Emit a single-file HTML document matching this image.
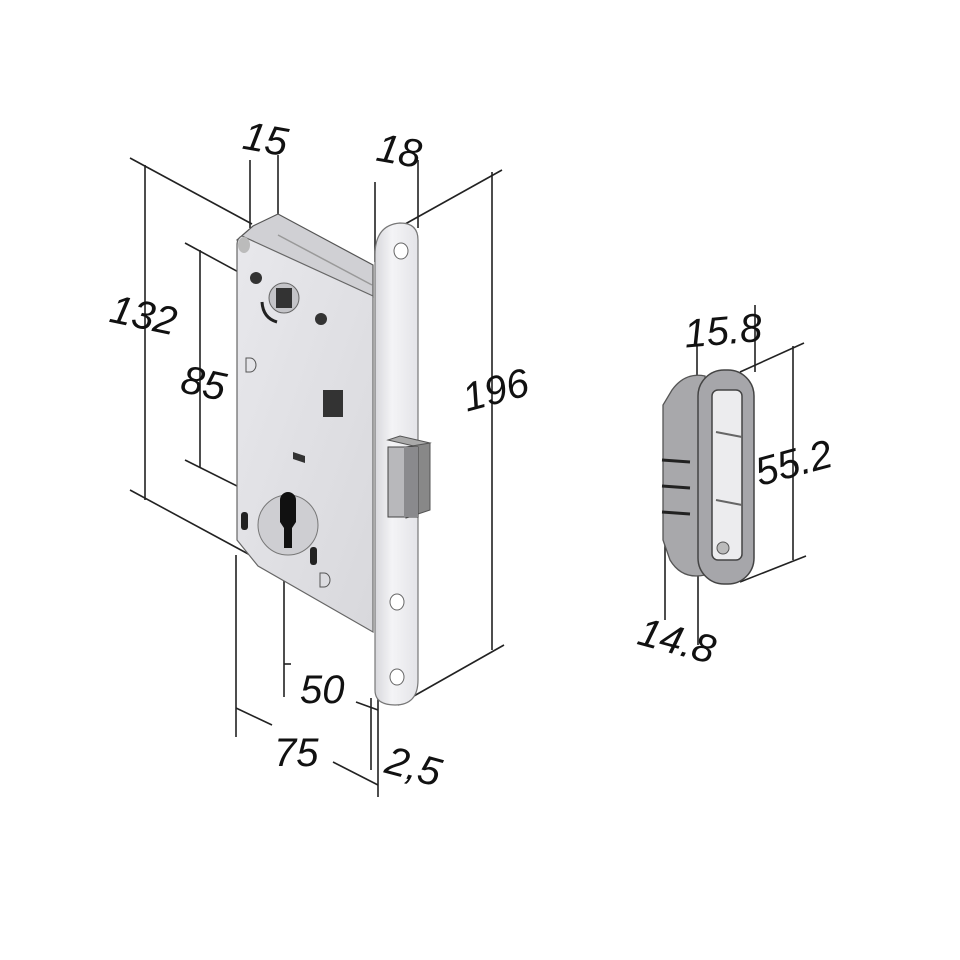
<!DOCTYPE html>
<html><head><style>
html,body{margin:0;padding:0;background:#fff;}
svg{display:block}
text{font-family:"Liberation Sans",sans-serif;font-style:italic;fill:#111;font-size:40px}
</style></head><body>
<svg width="960" height="960" viewBox="0 0 960 960" xmlns="http://www.w3.org/2000/svg">
<defs>
<linearGradient id="face" x1="0" y1="0" x2="1" y2="1"><stop offset="0" stop-color="#e8e8ec"/><stop offset="1" stop-color="#d8d8dc"/></linearGradient>
<linearGradient id="plate" x1="0" y1="0" x2="1" y2="0"><stop offset="0" stop-color="#d8d8dc"/><stop offset=".4" stop-color="#f4f4f6"/><stop offset="1" stop-color="#e4e4e8"/></linearGradient>
</defs>
<g stroke="#222" stroke-width="1.6" fill="none">
<line x1="145" y1="165" x2="145" y2="500"/>
<line x1="130" y1="158" x2="252" y2="224"/>
<line x1="130" y1="490" x2="252" y2="556"/>
<line x1="200" y1="250" x2="200" y2="468"/>
<line x1="185" y1="243" x2="290" y2="300"/>
<line x1="185" y1="460" x2="285" y2="510"/>
<line x1="250" y1="160" x2="250" y2="228"/>
<line x1="278" y1="155" x2="278" y2="215"/>
<line x1="375" y1="182" x2="375" y2="262"/>
<line x1="418" y1="160" x2="418" y2="228"/>
<line x1="492" y1="172" x2="492" y2="650"/>
<line x1="398" y1="228" x2="502" y2="170"/>
<line x1="398" y1="705" x2="504" y2="645"/>
<line x1="284" y1="512" x2="284" y2="697"/>
<line x1="284" y1="664" x2="291" y2="664"/>
<line x1="356" y1="702" x2="378" y2="710"/>
<line x1="236" y1="555" x2="236" y2="737"/>
<line x1="236" y1="708" x2="272" y2="725"/>
<line x1="333" y1="762" x2="378" y2="785"/>
<line x1="371" y1="698" x2="371" y2="770"/>
<line x1="378" y1="698" x2="378" y2="797"/>
<line x1="697" y1="345" x2="697" y2="378"/>
<line x1="755" y1="305" x2="755" y2="372"/>
<line x1="793" y1="346" x2="793" y2="560"/>
<line x1="740" y1="372" x2="804" y2="343"/>
<line x1="740" y1="582" x2="806" y2="556"/>
<line x1="665" y1="530" x2="665" y2="620"/>
<line x1="698" y1="565" x2="698" y2="645"/>
</g>
<polygon points="237,240 253,226 278,214 373,265 373,297" fill="#d0d0d4" stroke="#555" stroke-width="1.2"/>
<line x1="278" y1="235" x2="372" y2="285" stroke="#999" stroke-width="1.5"/>
<path d="M242,236 L373,296 L373,632 L258,566 L237,540 L237,245 Q237,238 242,236 Z" fill="url(#face)" stroke="#666" stroke-width="1.2"/>
<ellipse cx="244" cy="245" rx="6" ry="8" fill="#bbb"/>
<circle cx="284" cy="298" r="15" fill="#c4c4c8" stroke="#666"/>
<rect x="276" y="288" width="16" height="20" fill="#333"/>
<circle cx="256" cy="278" r="6" fill="#333"/>
<circle cx="321" cy="319" r="6" fill="#333"/>
<path d="M262,302 Q263,318 277,322" stroke="#222" stroke-width="3" fill="none"/>
<path d="M246,358 h4 a6,7 0 0 1 0,14 h-4 z" fill="none" stroke="#555"/>
<rect x="323" y="390" width="20" height="27" fill="#333"/>
<polygon points="293,452 305,456 305,463 293,459" fill="#333"/>
<circle cx="288" cy="525" r="30" fill="#ceced2" stroke="#777"/>
<path d="M280,500 a8,8 0 0 1 16,0 v22 l-4,6 v20 h-8 v-20 l-4,-6 z" fill="#111"/>
<rect x="241" y="512" width="7" height="18" rx="3" fill="#222"/>
<rect x="310" y="547" width="7" height="18" rx="3" fill="#222"/>
<path d="M320,573 h4 a6,7 0 0 1 0,14 h-4 z" fill="none" stroke="#555"/>
<path d="M375,255 Q375,225 400,223 Q418,223 418,240 L418,680 Q418,705 395,705 Q375,705 375,690 Z" fill="url(#plate)" stroke="#777" stroke-width="1.2"/>
<ellipse cx="401" cy="251" rx="7" ry="8" fill="#fff" stroke="#666"/>
<ellipse cx="397" cy="602" rx="7" ry="8" fill="#fff" stroke="#666"/>
<ellipse cx="397" cy="677" rx="7" ry="8" fill="#fff" stroke="#666"/>
<polygon points="388,440 400,436 430,443 418,447" fill="#aaa" stroke="#555"/>
<polygon points="406,447 430,443 430,510 406,518" fill="#888" stroke="#555"/>
<rect x="388" y="447" width="30" height="70" fill="#b8b8bb" stroke="#444"/>
<rect x="404" y="447" width="14" height="70" fill="#8a8a8d"/>
<path d="M672,390 Q685,372 705,376 L705,575 Q682,580 670,560 L663,540 L663,405 Z" fill="#a8a8ab" stroke="#555" stroke-width="1.3"/>
<g stroke="#222" stroke-width="3"><line x1="662" y1="460" x2="690" y2="462"/><line x1="662" y1="486" x2="690" y2="488"/><line x1="662" y1="512" x2="690" y2="514"/></g>
<rect x="698" y="370" width="56" height="214" rx="26" fill="#a6a6aa" stroke="#444" stroke-width="1.5"/>
<rect x="712" y="390" width="30" height="170" rx="6" fill="#ececee" stroke="#444" stroke-width="1.5"/>
<line x1="716" y1="432" x2="742" y2="437" stroke="#666" stroke-width="2"/>
<line x1="716" y1="500" x2="742" y2="505" stroke="#666" stroke-width="2"/>
<circle cx="723" cy="548" r="6" fill="#bbb" stroke="#555"/>
<text x="110" y="328" transform="rotate(12 140 315)">132</text>
<text x="181" y="397" transform="rotate(12 205 385)">85</text>
<text x="243" y="152" transform="rotate(10 262 140)">15</text>
<text x="377" y="164" transform="rotate(10 397 150)">18</text>
<text x="462" y="405" transform="rotate(-15 490 390)">196</text>
<text x="300" y="703">50</text>
<text x="274" y="766">75</text>
<text x="386" y="779" transform="rotate(15 410 765)">2,5</text>
<text x="684" y="345" transform="rotate(-5 715 330)">15.8</text>
<text x="754" y="476" transform="rotate(-15 795 460)">55.2</text>
<text x="638" y="653" transform="rotate(15 672 640)">14.8</text>
</svg>
</body></html>
